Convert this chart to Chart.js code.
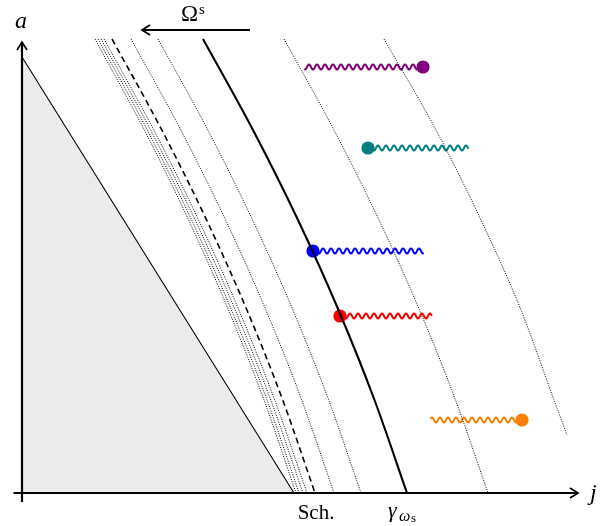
<!DOCTYPE html>
<html><head><meta charset="utf-8">
<script src="https://cdn.jsdelivr.net/npm/chart.js@4/dist/chart.umd.min.js"></script>
<style>html,body{margin:0;padding:0;background:#fff;}#wrap{width:615px;height:526px;}</style>
</head><body><div id="wrap"><canvas id="c" width="615" height="526"></canvas></div>
<script>
// sample heights a for the curves (top to axis)
const aLevels = [9.08, 7.26, 5.46, 3.66, 1.86, 0];
// dotted cluster near Schwarzschild
const dotted1 = [1.46, 2.446, 3.332, 4.13, 4.84, 5.48];
const dotted2 = [1.52, 2.506, 3.392, 4.19, 4.90, 5.54];
const dotted3 = [1.58, 2.572, 3.462, 4.264, 4.976, 5.62];
const dotted4 = [1.64, 2.636, 3.532, 4.338, 5.054, 5.70];
// dashed curve
const dashedJ = [1.80, 2.796, 3.692, 4.498, 5.214, 5.86];
// further dotted curves
const dotted5 = [2.18, 3.176, 4.072, 4.878, 5.594, 6.24];
const dotted6 = [2.72, 3.716, 4.612, 5.418, 6.134, 6.78];
// thick curve gamma_omega_s
const gammaJ = [3.62, 4.62, 5.52, 6.33, 7.05, 7.70];
const dotted7 = [5.24, 6.24, 7.14, 7.95, 8.67, 9.32];
const aLevelsShort = [9.08, 7.26, 5.46, 3.66, 1.86, 1.16];
const dotted8 = [7.24, 8.28, 9.18, 9.98, 10.64, 10.90];
// extremal (shaded) region
const triJ = [0, 5.44];
const triA = [8.72, 0];
// emitters: dot position and end of wave
const emitNames = ['purple', 'teal', 'blue', 'red', 'orange'];
const emitJ = [8.02, 6.92, 5.82, 6.36, 10.0];
const emitA = [8.52, 6.90, 4.84, 3.54, 1.46];
const waveEndJ = [5.66, 8.92, 8.02, 8.20, 8.18];
const emitColors = ['#800080', '#008080', '#0000ff', '#ff0000', '#ff8000'];
// axis labels
const labelSch = 'Sch.';
const schJ = 5.88;
const gammaLabelJ = 7.32;

function pts(js, as) { return js.map((j, i) => ({x: j, y: as[i]})); }

const dotStyle = {borderColor: '#000', borderWidth: 1, borderDash: [1, 1.4], pointRadius: 0, showLine: true, fill: false, cubicInterpolationMode: 'monotone'};

const datasets = [
  {data: pts(triJ, triA), borderColor: '#000', borderWidth: 1.1, backgroundColor: '#ebebeb', fill: 'origin', showLine: true, pointRadius: 0},
  Object.assign({data: pts(dotted1, aLevels)}, dotStyle),
  Object.assign({data: pts(dotted2, aLevels)}, dotStyle),
  Object.assign({data: pts(dotted3, aLevels)}, dotStyle),
  Object.assign({data: pts(dotted4, aLevels)}, dotStyle),
  {data: pts(dashedJ, aLevels), borderColor: '#000', borderWidth: 1.6, borderDash: [6, 4], pointRadius: 0, showLine: true, fill: false, cubicInterpolationMode: 'monotone'},
  Object.assign({data: pts(dotted5, aLevels)}, dotStyle),
  Object.assign({data: pts(dotted6, aLevels)}, dotStyle),
  {data: pts(gammaJ, aLevels), borderColor: '#000', borderWidth: 2.1, pointRadius: 0, showLine: true, fill: false, cubicInterpolationMode: 'monotone'},
  Object.assign({data: pts(dotted7, aLevels)}, dotStyle),
  Object.assign({data: pts(dotted8, aLevelsShort)}, dotStyle),
  {data: pts(emitJ, emitA), showLine: false, pointRadius: 6.6, pointHoverRadius: 6.6, pointBackgroundColor: emitColors, pointBorderColor: emitColors, pointBorderWidth: 0}
];

function drawWave(ctx, x0, x1, y, color) {
  const dir = x1 > x0 ? 1 : -1;
  const len = Math.abs(x1 - x0);
  const wl = 8, amp = 2.5;
  ctx.save();
  ctx.strokeStyle = color; ctx.lineWidth = 2; ctx.lineJoin = 'round'; ctx.lineCap = 'round';
  ctx.beginPath();
  for (let s = 0; s <= len; s += 0.5) {
    const px = x0 + dir * s;
    const py = y - amp * Math.sin(2 * Math.PI * s / wl);
    if (s === 0) ctx.moveTo(px, py); else ctx.lineTo(px, py);
  }
  ctx.stroke();
  ctx.restore();
}

function arrowHead(ctx, x, y, dx, dy) {
  const L = 8, W = 5;
  const px = -dy, py = dx;
  ctx.beginPath();
  ctx.moveTo(x - dx * L + px * W, y - dy * L + py * W);
  ctx.lineTo(x, y);
  ctx.lineTo(x - dx * L - px * W, y - dy * L - py * W);
  ctx.stroke();
}

const decor = {
  id: 'decor',
  beforeDatasetsDraw(chart) {
    const ctx = chart.ctx, xs = chart.scales.x, ys = chart.scales.y;
    for (let i = 0; i < emitJ.length; i++) {
      const x0 = xs.getPixelForValue(emitJ[i]);
      const x1 = xs.getPixelForValue(waveEndJ[i]);
      const y = ys.getPixelForValue(emitA[i]);
      drawWave(ctx, x0, x1, y, emitColors[i]);
    }
  },
  afterDatasetsDraw(chart) {
    const ctx = chart.ctx, xs = chart.scales.x, ys = chart.scales.y;
    const ox = xs.getPixelForValue(0), oy = ys.getPixelForValue(0);
    ctx.save();
    ctx.strokeStyle = '#000'; ctx.lineWidth = 2.2; ctx.lineCap = 'butt';
    const xEnd = xs.getPixelForValue(11.12);
    ctx.beginPath(); ctx.moveTo(xs.getPixelForValue(-0.17), oy); ctx.lineTo(xEnd, oy); ctx.stroke();
    ctx.lineWidth = 1.7;
    arrowHead(ctx, xEnd, oy, 1, 0);
    ctx.lineWidth = 2.2;
    const yEnd = ys.getPixelForValue(9.02);
    ctx.beginPath(); ctx.moveTo(ox, ys.getPixelForValue(-0.18)); ctx.lineTo(ox, yEnd); ctx.stroke();
    ctx.lineWidth = 1.7;
    arrowHead(ctx, ox, yEnd, 0, -1);
    // Omega arrow
    const oyA = ys.getPixelForValue(9.26);
    const ax0 = xs.getPixelForValue(4.56), ax1 = xs.getPixelForValue(2.4);
    ctx.lineWidth = 1.8;
    ctx.beginPath(); ctx.moveTo(ax0, oyA); ctx.lineTo(ax1, oyA); ctx.stroke();
    arrowHead(ctx, ax1, oyA, -1, 0);
    // labels
    ctx.fillStyle = '#000';
    ctx.textBaseline = 'alphabetic';
    ctx.font = '23px "Liberation Serif", "DejaVu Serif", serif';
    ctx.textAlign = 'left';
    ctx.fillText('\u03A9', xs.getPixelForValue(3.18), 21);
    ctx.font = '15px "Liberation Serif", serif';
    ctx.fillText('s', xs.getPixelForValue(3.18) + 18, 14);
    ctx.font = 'italic 24px "Liberation Serif", serif';
    ctx.fillText('a', ox - 7, 28);
    ctx.fillText('j', xs.getPixelForValue(11.36), oy + 7);
    ctx.font = '21px "Liberation Serif", serif';
    ctx.textAlign = 'center';
    ctx.fillText(labelSch, xs.getPixelForValue(schJ), oy + 26);
    ctx.textAlign = 'left';
    const gx = xs.getPixelForValue(gammaLabelJ);
    ctx.font = 'italic 22px "Liberation Serif", serif';
    ctx.fillText('\u03B3', gx, oy + 24);
    ctx.font = 'italic 16px "Liberation Serif", serif';
    ctx.fillText('\u03C9', gx + 11, oy + 28);
    ctx.font = '13px "Liberation Serif", serif';
    ctx.fillText('s', gx + 23, oy + 29);
    ctx.restore();
  }
};

new Chart(document.getElementById('c'), {
  type: 'scatter',
  data: {datasets},
  options: {
    responsive: false,
    animation: false,
    events: [],
    layout: {padding: {left: 10, right: 15, top: 30, bottom: 16}},
    plugins: {legend: {display: false}, tooltip: {enabled: false}},
    scales: {
      x: {type: 'linear', min: -0.24, max: 11.56, display: false},
      y: {type: 'linear', min: -0.34, max: 9.26, display: false}
    }
  },
  plugins: [decor]
});
</script>
</body></html>
